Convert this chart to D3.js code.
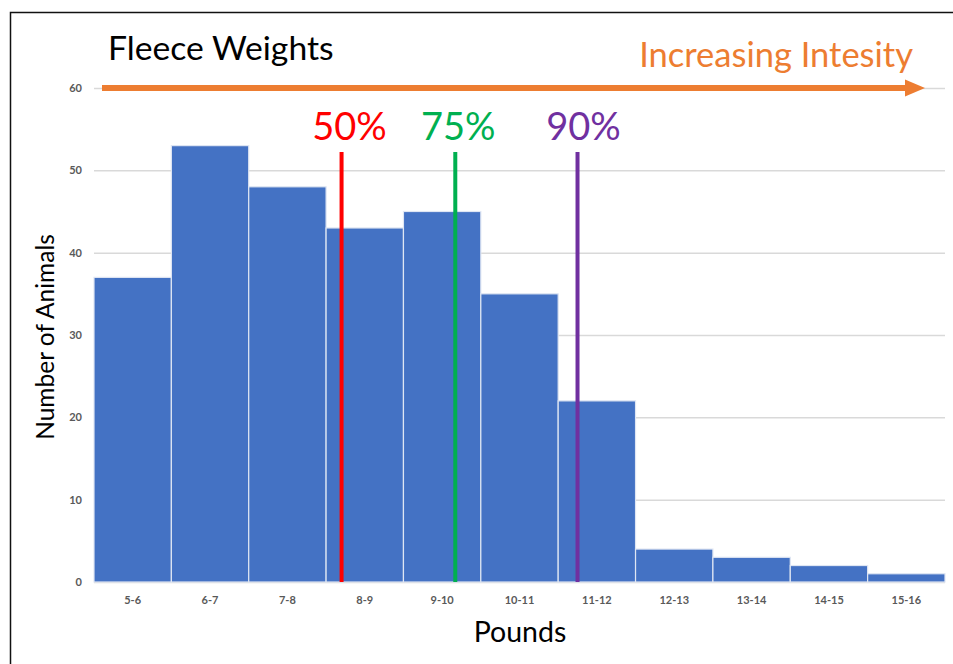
<!DOCTYPE html>
<html>
<head>
<meta charset="utf-8">
<script src="https://cdn.jsdelivr.net/npm/d3@7/dist/d3.min.js"></script>
<style>
  html, body { margin: 0; padding: 0; background: #fff; }
  svg { display: block; }
</style>
</head>
<body>
<svg id="chart" width="953" height="664"></svg>
<script>
// ---- data ----
const categories = ["5-6","6-7","7-8","8-9","9-10","10-11","11-12","12-13","13-14","14-15","15-16"];
const counts = [37, 53, 48, 43, 45, 35, 22, 4, 3, 2, 1];
const yTicks = [0, 10, 20, 30, 40, 50, 60];
const percentileLabels = ["50%", "75%", "90%"];
const percentilePounds = [8.2, 9.67, 11.25];
const percentileColors = ["#FF0000", "#00B050", "#7030A0"];
const titleText = "Fleece Weights";
const intensityText = "Increasing Intesity";
const xTitle = "Pounds";
const yTitle = "Number of Animals";

(function () {
const svg = d3.select("#chart");
const font = "Lato, 'Open Sans', sans-serif";

// border
svg.append("path")
  .attr("d", "M10.5,664 L10.5,12.5 L953,12.5")
  .attr("fill", "none").attr("stroke", "#111").attr("stroke-width", 1.5);

const mLeft = 94, mRight = 945, mTop = 88, mBottom = 582;

const x = d3.scaleBand().domain(categories).range([mLeft, mRight]).paddingInner(0).paddingOuter(0);
const xLin = d3.scaleLinear().domain([5, 16]).range([mLeft, mRight]);
const y = d3.scaleLinear().domain([0, 60]).range([mBottom, mTop]);

// gridlines
const yAxis = d3.axisLeft(y).tickValues(yTicks).tickSize(-(mRight - mLeft)).tickPadding(12);
const gy = svg.append("g").attr("transform", `translate(${mLeft},0)`).call(yAxis);
gy.select(".domain").remove();
gy.selectAll(".tick line").attr("stroke", "#d9d9d9").attr("stroke-width", 1.5);
gy.selectAll(".tick text")
  .attr("fill", "#595959").attr("font-family", font).attr("font-size", 11).attr("font-weight", 700);

// bars
svg.append("g").selectAll("rect").data(counts).join("rect")
  .attr("x", (d, i) => x(categories[i]))
  .attr("y", d => y(d))
  .attr("width", x.bandwidth())
  .attr("height", d => y(0) - y(d))
  .attr("fill", "#4472C4")
  .attr("stroke", "#dfe6f3").attr("stroke-width", 1.2);

// x axis labels
const xAxis = d3.axisBottom(x).tickSize(0).tickPadding(14);
const gx = svg.append("g").attr("transform", `translate(0,${mBottom})`).call(xAxis);
gx.select(".domain").remove();
gx.selectAll(".tick text")
  .attr("fill", "#595959").attr("font-family", font).attr("font-size", 11).attr("font-weight", 700);

// percentile lines
const labelShift = [8, 3, 6];
percentilePounds.forEach((p, i) => {
  const px = xLin(p);
  svg.append("line")
    .attr("x1", px).attr("x2", px)
    .attr("y1", 152).attr("y2", mBottom)
    .attr("stroke", percentileColors[i]).attr("stroke-width", 4);
  svg.append("text")
    .attr("x", px + labelShift[i]).attr("y", 140)
    .attr("text-anchor", "middle")
    .attr("font-family", font).attr("font-size", 38)
    .attr("fill", percentileColors[i])
    .text(percentileLabels[i]);
});

// arrow
const orange = "#ED7D31";
svg.append("line")
  .attr("x1", 102).attr("x2", 908)
  .attr("y1", y(60)).attr("y2", y(60))
  .attr("stroke", orange).attr("stroke-width", 6);
svg.append("path")
  .attr("d", `M905,${y(60) - 8.5} L925,${y(60)} L905,${y(60) + 8.5} Z`)
  .attr("fill", orange);

// titles
svg.append("text")
  .attr("x", 108).attr("y", 60)
  .attr("font-family", font).attr("font-size", 33.7)
  .attr("fill", "#000")
  .text(titleText);
svg.append("text")
  .attr("x", 913).attr("y", 67)
  .attr("text-anchor", "end")
  .attr("font-family", font).attr("font-size", 34.5)
  .attr("fill", orange)
  .text(intensityText);

svg.append("text")
  .attr("x", 520).attr("y", 642)
  .attr("text-anchor", "middle")
  .attr("font-family", font).attr("font-size", 28.5)
  .attr("fill", "#000")
  .text(xTitle);

svg.append("text")
  .attr("transform", `translate(54,337) rotate(-90)`)
  .attr("text-anchor", "middle")
  .attr("font-family", font).attr("font-size", 24.5)
  .attr("fill", "#000")
  .text(yTitle);
})();
</script>
</body>
</html>
